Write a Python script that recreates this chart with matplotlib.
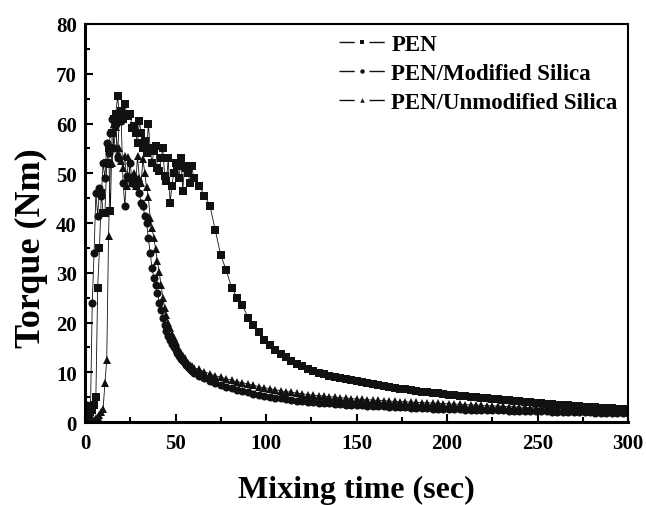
import numpy as np
import matplotlib
matplotlib.use("Agg")
import matplotlib.pyplot as plt
from matplotlib.ticker import MultipleLocator
from matplotlib.lines import Line2D

plt.rcParams['font.family'] = ['Liberation Serif', 'DejaVu Serif']
plt.rcParams['font.weight'] = 'bold'

# time axis: 1 s steps during the mixing peak, 3 s steps in the tail
t_early = list(range(0, 61))
t_tail = list(range(63, 301, 3))
time_s = t_early + t_tail

pen = [0.5, 1.0, 1.5, 2.0, 2.5, 3.5, 5.0, 27, 35, 46,
       42, 42, 52, 55, 42.5, 58, 61, 62, 65.5, 61.5,
       62.5, 61, 64, 62, 61.5, 62, 59, 59.5, 58, 56,
       60.5, 58, 55, 56.5, 54, 60, 55, 52, 54.5, 55.5,
       51, 50.5, 53, 55, 49.5, 48.5, 53, 44, 47.5, 50,
       52, 51.5, 49, 53, 46.5, 51.5, 51, 50, 48, 51.5,
       49,
       47.5, 45.5, 43.5, 38.5, 33.5, 30.5, 27, 25, 23.5, 21,
       19.5, 18, 16.5, 15.5, 14.5, 13.7, 13, 12.3, 11.7, 11.2,
       10.7, 10.3, 9.9, 9.6, 9.3, 9.0, 8.8, 8.6, 8.4, 8.3,
       8.1, 7.9, 7.7, 7.5, 7.3, 7.1, 6.9, 6.7, 6.6, 6.4,
       6.3, 6.1, 6.0, 5.9, 5.8, 5.6, 5.5, 5.4, 5.3, 5.2,
       5.1, 5.0, 4.9, 4.8, 4.7, 4.6, 4.5, 4.4, 4.3, 4.2,
       4.1, 4.0, 3.9, 3.8, 3.7, 3.6, 3.5, 3.4, 3.35, 3.3,
       3.2, 3.1, 3.05, 3.0, 2.9, 2.85, 2.8, 2.7, 2.65, 2.6]

pen_mod = [2.5, 3.5, 3.0, 2.0, 24, 34, 46, 41.5, 47, 45.5,
           52, 49, 56, 54, 58, 61, 55, 60, 53, 62,
           60.5, 48, 43.5, 49.5, 49, 52, 48, 49, 47.5, 48.5,
           46, 44, 43.5, 41.5, 40, 37, 34, 31, 29, 27.5,
           26, 24, 22.5, 21, 19.5, 18.3, 17.3, 16.5, 15.7, 15,
           14.4, 13.8, 13.2, 12.7, 12.2, 11.8, 11.4, 11, 10.6, 10.2,
           9.8,
           9.3, 8.8, 8.3, 7.9, 7.5, 7.1, 6.8, 6.5, 6.2, 6.0,
           5.7, 5.5, 5.3, 5.1, 4.9, 4.75, 4.6, 4.45, 4.3, 4.2,
           4.1, 4.0, 3.9, 3.8, 3.75, 3.65, 3.6, 3.5, 3.45, 3.4,
           3.35, 3.3, 3.25, 3.2, 3.15, 3.1, 3.05, 3.0, 2.95, 2.9,
           2.85, 2.8, 2.75, 2.7, 2.7, 2.65, 2.6, 2.6, 2.55, 2.5,
           2.5, 2.45, 2.45, 2.4, 2.4, 2.35, 2.35, 2.3, 2.3, 2.25,
           2.25, 2.2, 2.2, 2.15, 2.15, 2.1, 2.1, 2.05, 2.05, 2.0,
           2.0, 1.95, 1.95, 1.9, 1.9, 1.85, 1.85, 1.8, 1.8, 1.8]

pen_unmod = [0.5, 0.3, 0.3, 0.3, 0.5, 0.5, 0.8, 1.0, 1.5, 2.0,
             2.7, 7.8, 12.5, 37.3, 51.9, 52, 59.9, 59.2, 54, 55,
             52.5, 51, 53.5, 47.5, 53.2, 49, 48, 50, 47.5, 53.5,
             49, 48, 52.9, 50, 47.2, 45.2, 41, 39, 37, 34.8,
             32.3, 30.1, 27.5, 25, 23, 21.5, 20, 18.8, 17.7, 16.8,
             16, 15.2, 14.5, 13.9, 13.3, 12.8, 12.3, 11.9, 11.5, 11.2,
             10.9,
             10.6, 10.1, 9.7, 9.3, 9.0, 8.7, 8.4, 8.1, 7.9, 7.6,
             7.4, 7.1, 6.9, 6.7, 6.5, 6.3, 6.1, 6.0, 5.8, 5.7,
             5.5, 5.4, 5.3, 5.2, 5.1, 5.0, 4.9, 4.8, 4.7, 4.6,
             4.55, 4.5, 4.4, 4.35, 4.3, 4.2, 4.15, 4.1, 4.05, 4.0,
             3.95, 3.9, 3.85, 3.8, 3.75, 3.7, 3.65, 3.6, 3.55, 3.5,
             3.45, 3.4, 3.35, 3.3, 3.25, 3.2, 3.15, 3.1, 3.05, 3.0,
             2.95, 2.9, 2.85, 2.8, 2.75, 2.7, 2.65, 2.6, 2.55, 2.5,
             2.5, 2.45, 2.4, 2.4, 2.35, 2.3, 2.3, 2.25, 2.2, 2.2]

labels = ['PEN', 'PEN/Modified Silica', 'PEN/Unmodified Silica']
markers = ['s', 'o', '^']

fig = plt.figure(figsize=(6.46, 5.06), dpi=100)
ax = fig.add_axes([0.1316, 0.164, 0.8406, 0.7866])

line_kw = dict(color='#111111', linewidth=0.6, markeredgewidth=0)
ax.plot(time_s, pen, marker='s', markersize=5.3, **line_kw)
ax.plot(time_s, pen_mod, marker='o', markersize=5.8, **line_kw)
ax.plot(time_s, pen_unmod, marker='^', markersize=6.3, **line_kw)

ax.set_xlim(0, 300)
ax.set_ylim(0, 80)
ax.xaxis.set_major_locator(MultipleLocator(50))
ax.xaxis.set_minor_locator(MultipleLocator(25))
ax.yaxis.set_major_locator(MultipleLocator(10))
ax.yaxis.set_minor_locator(MultipleLocator(5))
ax.tick_params(which='both', direction='in', top=False, right=False,
               width=1.5, labelsize=15)
ax.tick_params(axis='x', pad=8)
ax.tick_params(axis='y', pad=6)
ax.tick_params(which='major', length=6)
ax.tick_params(which='minor', length=3.5)
for lab in ax.get_xticklabels() + ax.get_yticklabels():
    lab.set_fontweight('bold')

ax.spines['left'].set_linewidth(2.2)
ax.spines['bottom'].set_linewidth(2.2)
ax.spines['top'].set_linewidth(1.5)
ax.spines['right'].set_linewidth(1.5)

ax.set_xlabel('Mixing time (sec)', fontsize=23, fontweight='bold', labelpad=16)
ax.set_ylabel('Torque (Nm)', fontsize=26, fontweight='bold')
ax.yaxis.set_label_coords(-0.069, 0.44)

# legend handles drawn as "- marker -"
handles = [Line2D([], [], color='#111111', linewidth=1.0, marker=m,
                  markersize=3.2, markeredgewidth=0,
                  linestyle=(0, (11, 10.6, 11, 100)))
           for m in markers]
ax.legend(handles, labels, loc='upper right', frameon=False, fontsize=16.5,
          handlelength=2.0, handletextpad=0.3, labelspacing=0.35,
          borderpad=0.3, borderaxespad=0.15)

fig.savefig('out.png', dpi=100)
